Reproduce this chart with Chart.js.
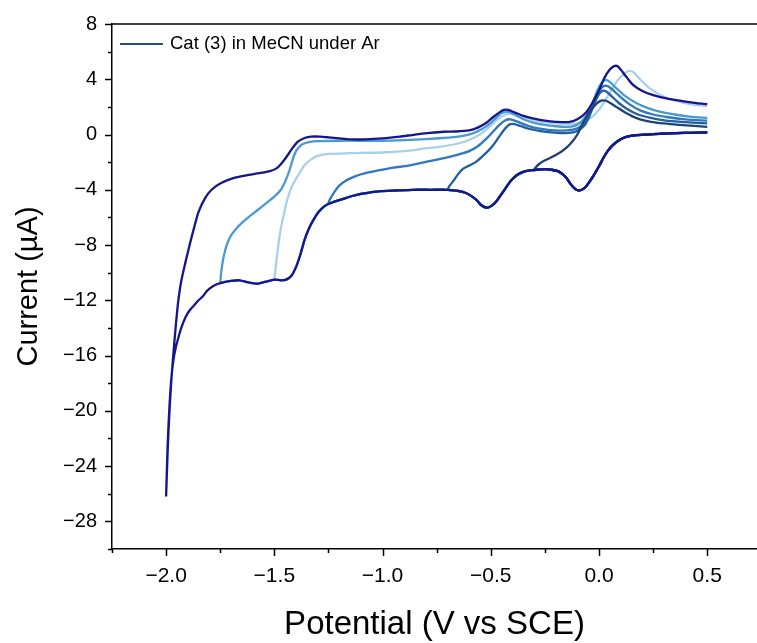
<!DOCTYPE html>
<html><head><meta charset="utf-8">
<script src="https://cdn.jsdelivr.net/npm/chart.js@4/dist/chart.umd.min.js"></script>
<style>html,body{margin:0;padding:0;background:#fff;overflow:hidden}</style>
</head><body>
<canvas id="c" width="757" height="643"></canvas>
<script>
// ---- tick labels ----
const xTickValues = [-2.0, -1.5, -1.0, -0.5, 0.0, 0.5];
const yTickValues = [8, 4, 0, -4, -8, -12, -16, -20, -24, -28];
const legendLabel = 'Cat (3) in MeCN under Ar';
const xTitle = 'Potential (V vs SCE)';
const yTitle = 'Current (\u00B5A)';

// ---- common cathodic (forward) sweep, from +0.5 V towards -2.0 V ----
const fwdE = [0.50,0.42,0.35,0.28,0.22,0.17,0.13,0.10,0.065,0.04,0.02,0.0,-0.03,-0.05,-0.065,-0.08,-0.09,-0.105,-0.12,-0.135,-0.15,-0.17,-0.19,-0.22,-0.25,-0.29,-0.32,-0.35,-0.38,-0.41,-0.43,-0.45,-0.47,-0.495,-0.52,-0.545,-0.565,-0.6,-0.63,-0.67,-0.7,-0.78,-0.86,-0.94,-1.01,-1.06,-1.1,-1.14,-1.17,-1.2,-1.23,-1.26,-1.28,-1.3,-1.32,-1.34,-1.36,-1.38,-1.40,-1.42,-1.445,-1.47,-1.5,-1.54,-1.58,-1.62,-1.66,-1.7,-1.75,-1.78,-1.81,-1.83,-1.85,-1.87,-1.89,-1.91,-1.93,-1.945,-1.955,-1.965,-1.975,-1.985,-1.993,-2.0];
const fwdI = [0.15,0.12,0.1,0.05,0.0,-0.05,-0.15,-0.35,-0.75,-1.2,-1.7,-2.3,-3.1,-3.55,-3.85,-4.0,-4.05,-4.0,-3.8,-3.5,-3.15,-2.85,-2.65,-2.55,-2.5,-2.55,-2.6,-2.7,-2.95,-3.4,-3.85,-4.3,-4.75,-5.15,-5.3,-5.1,-4.75,-4.35,-4.15,-4.05,-4.0,-4.0,-4.0,-4.05,-4.1,-4.2,-4.3,-4.45,-4.6,-4.75,-4.9,-5.1,-5.35,-5.7,-6.2,-6.8,-7.6,-8.7,-9.6,-10.2,-10.5,-10.55,-10.5,-10.65,-10.8,-10.7,-10.55,-10.6,-10.75,-10.95,-11.3,-11.7,-12.0,-12.35,-12.7,-13.2,-14.0,-14.8,-15.4,-16.2,-17.5,-19.8,-22.5,-26.2];

// ---- switching potentials (V) ----
const switchPotentials = [-2.0, -0.3, -0.7, -1.25, -1.75, -1.5];

// ---- anodic (return) sweeps ----
const retA_E = [-2.0,-1.993,-1.985,-1.975,-1.965,-1.955,-1.945,-1.93,-1.91,-1.89,-1.87,-1.85,-1.82,-1.79,-1.75,-1.69,-1.63,-1.57,-1.52,-1.49,-1.47,-1.45,-1.43,-1.41,-1.39,-1.36,-1.33,-1.29,-1.25,-1.2,-1.15,-1.08,-1.0,-0.92,-0.85,-0.78,-0.72,-0.66,-0.6,-0.56,-0.52,-0.49,-0.46,-0.44,-0.42,-0.39,-0.35,-0.3,-0.25,-0.2,-0.14,-0.1,-0.06,-0.03,0.0,0.025,0.05,0.07,0.085,0.1,0.13,0.16,0.2,0.25,0.3,0.35,0.4,0.45,0.5];
const retA_I = [-26.2,-23.0,-20.2,-17.6,-15.6,-13.8,-12.2,-10.6,-9.2,-7.9,-6.7,-5.6,-4.6,-4.0,-3.55,-3.15,-2.95,-2.8,-2.65,-2.45,-2.15,-1.75,-1.3,-0.85,-0.5,-0.25,-0.15,-0.15,-0.2,-0.28,-0.35,-0.35,-0.28,-0.15,0.0,0.12,0.2,0.22,0.3,0.5,0.85,1.25,1.6,1.78,1.78,1.6,1.35,1.15,1.0,0.92,0.9,1.1,1.6,2.3,3.2,4.1,4.7,4.95,4.95,4.7,4.1,3.55,3.15,2.85,2.65,2.5,2.38,2.28,2.2];

const retB_E = [-1.75,-1.745,-1.735,-1.72,-1.7,-1.675,-1.65,-1.62,-1.58,-1.54,-1.5,-1.47,-1.45,-1.43,-1.415,-1.4,-1.385,-1.37,-1.34,-1.3,-1.2,-1.1,-1.0,-0.9,-0.8,-0.72,-0.65,-0.59,-0.54,-0.5,-0.47,-0.45,-0.43,-0.41,-0.38,-0.34,-0.3,-0.25,-0.2,-0.15,-0.11,-0.08,-0.05,-0.03,-0.01,0.01,0.03,0.05,0.08,0.12,0.17,0.22,0.28,0.35,0.42,0.5];
const retB_I = [-10.75,-9.9,-8.9,-8.0,-7.3,-6.8,-6.4,-6.0,-5.5,-5.0,-4.5,-4.0,-3.4,-2.6,-1.8,-1.2,-0.9,-0.7,-0.55,-0.48,-0.45,-0.45,-0.45,-0.4,-0.33,-0.25,-0.15,0.05,0.4,0.85,1.3,1.55,1.65,1.6,1.35,1.05,0.85,0.7,0.6,0.55,0.65,0.95,1.6,2.3,3.1,3.7,3.95,3.8,3.35,2.8,2.3,1.95,1.65,1.45,1.3,1.2];

const retC_E = [-1.5,-1.495,-1.49,-1.48,-1.47,-1.455,-1.44,-1.42,-1.4,-1.38,-1.36,-1.33,-1.3,-1.25,-1.15,-1.0,-0.9,-0.8,-0.72,-0.65,-0.6,-0.55,-0.51,-0.48,-0.45,-0.42,-0.39,-0.35,-0.3,-0.25,-0.2,-0.15,-0.1,-0.06,-0.03,0.0,0.03,0.06,0.09,0.12,0.14,0.16,0.19,0.23,0.28,0.34,0.42,0.5];
const retC_I = [-10.5,-9.8,-9.1,-7.8,-6.8,-5.7,-4.7,-3.8,-3.2,-2.7,-2.2,-1.8,-1.55,-1.4,-1.35,-1.3,-1.2,-1.0,-0.85,-0.65,-0.4,0.0,0.5,0.95,1.3,1.5,1.45,1.25,1.05,0.9,0.8,0.75,0.8,1.0,1.3,1.8,2.5,3.3,4.0,4.45,4.6,4.5,4.0,3.4,2.9,2.5,2.2,2.05];

const retF_E = [-1.25,-1.24,-1.22,-1.2,-1.17,-1.13,-1.08,-1.02,-0.95,-0.88,-0.82,-0.76,-0.7,-0.65,-0.6,-0.56,-0.52,-0.49,-0.46,-0.43,-0.41,-0.38,-0.34,-0.3,-0.25,-0.2,-0.15,-0.1,-0.07,-0.04,-0.02,0.0,0.02,0.04,0.07,0.1,0.14,0.19,0.25,0.32,0.4,0.5];
const retF_I = [-5.0,-4.6,-4.1,-3.7,-3.35,-3.05,-2.8,-2.6,-2.4,-2.25,-2.05,-1.85,-1.65,-1.45,-1.2,-0.85,-0.3,0.2,0.7,1.05,1.1,0.95,0.7,0.5,0.38,0.3,0.3,0.45,0.8,1.6,2.4,3.1,3.5,3.5,3.15,2.7,2.2,1.75,1.45,1.25,1.1,1.0];

const retD_E = [-0.7,-0.69,-0.67,-0.65,-0.63,-0.6,-0.57,-0.54,-0.51,-0.49,-0.47,-0.45,-0.43,-0.41,-0.39,-0.36,-0.32,-0.27,-0.22,-0.17,-0.12,-0.09,-0.065,-0.045,-0.025,-0.005,0.015,0.035,0.06,0.09,0.13,0.18,0.24,0.31,0.4,0.5];
const retD_I = [-4.0,-3.7,-3.3,-2.85,-2.5,-2.25,-2.0,-1.6,-1.15,-0.8,-0.35,0.1,0.5,0.75,0.75,0.6,0.4,0.25,0.15,0.1,0.15,0.35,0.7,1.3,2.1,2.8,3.15,3.1,2.75,2.3,1.85,1.45,1.2,1.0,0.9,0.8];

const retE_E = [-0.3,-0.285,-0.26,-0.22,-0.18,-0.15,-0.12,-0.1,-0.085,-0.07,-0.05,-0.03,-0.01,0.01,0.03,0.05,0.08,0.11,0.15,0.19,0.24,0.3,0.37,0.44,0.5];
const retE_I = [-2.6,-2.25,-1.95,-1.65,-1.3,-0.95,-0.45,0.0,0.5,0.95,1.5,1.9,2.25,2.45,2.45,2.3,2.0,1.7,1.35,1.1,0.92,0.8,0.7,0.62,0.55];

const returnE = [retA_E, retE_E, retD_E, retF_E, retB_E, retC_E];
const returnI = [retA_I, retE_I, retD_I, retF_I, retB_I, retC_I];
const colors = ['#16168c', '#1d4275', '#235f9f', '#2f78bb', '#4a9ad1', '#a8d0ec'];
const legendColor = '#244d88';

function buildCV(k) {
  const rev = switchPotentials[k];
  const pts = [];
  for (let i = 0; i < fwdE.length; i++) if (fwdE[i] >= rev - 1e-9) pts.push({x: fwdE[i], y: fwdI[i]});
  const e = returnE[k], c = returnI[k];
  for (let i = 0; i < e.length; i++) pts.push({x: e[i], y: c[i]});
  return pts;
}

const FONT = "'Liberation Sans', Arial, Helvetica, sans-serif";
const fmt = v => (v < 0 ? '\u2212' : '') + Math.abs(v);

const axisTicks = {
  id: 'axisTicks',
  afterDraw(chart) {
    const {ctx, chartArea: a, scales: {x, y}} = chart;
    ctx.save();
    ctx.strokeStyle = '#000';
    ctx.lineWidth = 1.5;
    ctx.beginPath();
    ctx.moveTo(a.left, a.top); ctx.lineTo(a.right, a.top);
    for (let v = -30; v <= 8.001; v += 2) {
      const p = Math.round(y.getPixelForValue(v)) + 0.5;
      const L = (Math.round(v) % 4 === 0) ? 7 : 4;
      ctx.moveTo(a.left, p); ctx.lineTo(a.left - L, p);
    }
    for (let v = -2.25; v <= x.max + 1e-6; v += 0.25) {
      const p = Math.round(x.getPixelForValue(v)) + 0.5;
      const major = Math.abs(v * 2 - Math.round(v * 2)) < 1e-6;
      const L = major ? 7 : 4;
      ctx.moveTo(p, a.bottom); ctx.lineTo(p, a.bottom + L);
    }
    ctx.stroke();
    // legend (single entry)
    const lx = a.left + 8, ly = a.top + 20;
    ctx.strokeStyle = legendColor;
    ctx.lineWidth = 2;
    ctx.beginPath(); ctx.moveTo(lx, ly); ctx.lineTo(lx + 43, ly); ctx.stroke();
    ctx.fillStyle = '#000';
    ctx.font = "18.5px " + FONT;
    ctx.textBaseline = 'middle';
    ctx.textAlign = 'left';
    ctx.fillText(legendLabel, lx + 50, ly);
    ctx.restore();
  }
};

new Chart(document.getElementById('c'), {
  type: 'scatter',
  data: {
    datasets: switchPotentials.map((r, k) => ({
      label: legendLabel,
      data: buildCV(k),
      showLine: true,
      borderColor: colors[k],
      backgroundColor: colors[k],
      borderWidth: 2.3,
      pointRadius: 0,
      tension: 0.25,
      fill: false
    }))
  },
  options: {
    responsive: false,
    animation: false,
    layout: {padding: {top: 24, right: 0, left: 0, bottom: 0}},
    plugins: {
      tooltip: {enabled: false},
      legend: {display: false}
    },
    scales: {
      x: {
        type: 'linear', min: -2.25, max: 0.73,
        afterFit: s => { s.height = 94; },
        afterBuildTicks: s => { s.ticks = xTickValues.map(v => ({value: v})); },
        grid: {display: false, drawTicks: true, tickLength: 7},
        border: {display: true, color: '#000', width: 1.5},
        ticks: {color: '#000', padding: 8, maxRotation: 0, autoSkip: false,
          font: {family: FONT, size: 21},
          callback: v => (v < 0 ? '\u2212' : '') + Math.abs(v).toFixed(1)},
        title: {display: true, text: xTitle, color: '#000', font: {family: FONT, size: 33, lineHeight: 1.1}, padding: {top: 0, bottom: 0}}
      },
      y: {
        type: 'linear', min: -30, max: 8,
        afterFit: s => { s.width = 112; },
        afterBuildTicks: s => { s.ticks = yTickValues.map(v => ({value: v})); },
        grid: {display: false, drawTicks: true, tickLength: 7},
        border: {display: true, color: '#000', width: 1.5},
        ticks: {color: '#000', padding: 8, autoSkip: false, font: {family: FONT, size: 20},
          callback: v => fmt(v)},
        title: {display: true, text: yTitle, color: '#000', font: {family: FONT, size: 29, lineHeight: 1.2}, padding: {top: 12, bottom: 4}}
      }
    }
  },
  plugins: [axisTicks]
});
</script>
</body></html>
